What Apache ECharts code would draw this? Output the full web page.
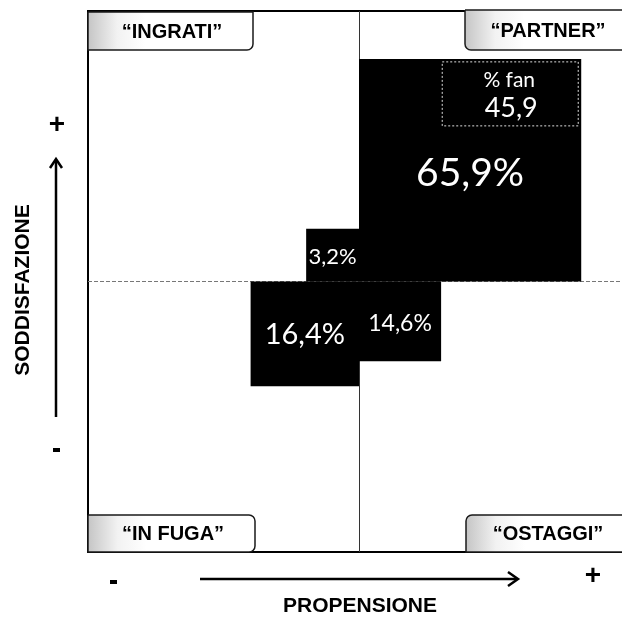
<!DOCTYPE html>
<html>
<head>
<meta charset="utf-8">
<script src="https://cdn.jsdelivr.net/npm/echarts@6/dist/echarts.min.js"></script>
<style>
html,body{margin:0;padding:0;background:#fff;}
#chart{width:622px;height:617px;}
</style>
</head>
<body>
<div id="chart"></div>
<script>
// ---- data ----
const quadrants = ['PARTNER', 'INGRATI', 'IN FUGA', 'OSTAGGI'];
const shares = [65.9, 3.2, 16.4, 14.6];
// extents of each block on the propensione (x) / soddisfazione (y) scales, -100..100
const xFrom = [0, -19.5, -40, 0];
const xTo = [82, 0, 0, 30.3];
const yFrom = [0, 0, -38.7, -29.5];
const yTo = [82.3, 19.5, 0, 0];
const fanLabel = '% fan';
const fanShare = [45.9];
const quadrantTitles = ['\u201CINGRATI\u201D', '\u201CPARTNER\u201D', '\u201CIN FUGA\u201D', '\u201COSTAGGI\u201D'];
const xTitle = 'PROPENSIONE';
const yTitle = 'SODDISFAZIONE';

// ---- styles ----
const labelSizes = [39, 22, 29, 23];
const labelDy = [3, 2, 1, 2];
const FONT = 'Lato, "DejaVu Sans", sans-serif';
const BOLD = '"Liberation Sans", Arial, sans-serif';

const fmt = v => v.toFixed(1).replace('.', ',');
const rows = shares.map((s, i) => [xFrom[i], xTo[i], yFrom[i], yTo[i], s, i]);

const chart = echarts.init(document.getElementById('chart'), null, {renderer: 'canvas'});

function tab(x, y, w, h, r, text, dx) {
  return {
    type: 'group',
    children: [
      {
        type: 'rect',
        shape: {x: x, y: y, width: w, height: h, r: r},
        style: {
          fill: new echarts.graphic.LinearGradient(0, 0, 1, 0, [
            {offset: 0, color: '#c4c4c4'},
            {offset: 0.18, color: '#f2f2f2'},
            {offset: 0.35, color: '#ffffff'},
            {offset: 1, color: '#ffffff'}
          ]),
          stroke: '#1a1a1a',
          lineWidth: 1.5
        },
        z: 10
      },
      {
        type: 'text',
        x: x + dx,
        y: y + h / 2 + 1,
        style: {
          text: text,
          font: 'bold 20px ' + BOLD,
          fill: '#000',
          align: 'center',
          verticalAlign: 'middle'
        },
        z: 11
      }
    ]
  };
}

const option = {
  animation: false,
  backgroundColor: '#fff',
  grid: {
    left: 88, top: 11, width: 542, height: 541,
    show: true, borderColor: '#000', borderWidth: 2, backgroundColor: '#fff',
    containLabel: false,
    outerBoundsMode: 'none'
  },
  xAxis: {
    type: 'value', min: -100, max: 100,
    axisLine: {show: false}, axisTick: {show: false},
    axisLabel: {show: false}, splitLine: {show: false}
  },
  yAxis: {
    type: 'value', min: -100, max: 100,
    axisLine: {show: false}, axisTick: {show: false},
    axisLabel: {show: false}, splitLine: {show: false}
  },
  series: [
    {
      type: 'custom',
      data: rows,
      z: 2,
      renderItem: function (params, api) {
        const i = api.value(5);
        const tl = api.coord([api.value(0), api.value(3)]);
        const br = api.coord([api.value(1), api.value(2)]);
        const w = br[0] - tl[0], h = br[1] - tl[1];
        const children = [
          {
            type: 'rect',
            shape: {x: tl[0], y: tl[1], width: w, height: h},
            style: {fill: '#000'}
          },
          {
            type: 'text',
            x: tl[0] + w / 2,
            y: tl[1] + h / 2 + labelDy[i],
            style: {
              text: fmt(api.value(4)) + '%',
              font: labelSizes[i] + 'px ' + FONT,
              fill: '#fff',
              align: 'center',
              verticalAlign: 'middle'
            }
          }
        ];
        if (i === 0) {
          children.push({
            type: 'rect',
            shape: {x: br[0] - 139, y: tl[1] + 3, width: 136, height: 64},
            style: {fill: 'none', stroke: '#ddd', lineWidth: 1, lineDash: [2, 2]}
          });
          children.push({
            type: 'text',
            x: br[0] - 72, y: tl[1] + 21,
            style: {text: fanLabel, font: '21px ' + FONT, fill: '#fff', align: 'center', verticalAlign: 'middle'}
          });
          children.push({
            type: 'text',
            x: br[0] - 70, y: tl[1] + 49,
            style: {text: fmt(fanShare[0]), font: '27px ' + FONT, fill: '#fff', align: 'center', verticalAlign: 'middle'}
          });
        }
        return {type: 'group', children: children};
      },
      markLine: {
        silent: true,
        symbol: 'none',
        label: {show: false},
        z: 1,
        data: [
          {xAxis: 0, lineStyle: {color: '#333', width: 1, type: 'solid'}},
          {yAxis: 0, lineStyle: {color: '#777', width: 1, type: [4, 2]}}
        ]
      }
    }
  ],
  graphic: [
    tab(88, 12, 165, 38, [0, 0, 6, 0], quadrantTitles[0], 84),
    tab(465, 10, 170, 40, [0, 0, 0, 6], quadrantTitles[1], 83),
    tab(88, 515, 167, 37, [0, 6, 6, 0], quadrantTitles[2], 85),
    tab(466, 515, 170, 37, [6, 0, 0, 0], quadrantTitles[3], 82),
    // y axis title and arrow
    {
      type: 'text', x: 23, y: 290, rotation: Math.PI / 2,
      style: {text: yTitle, font: 'bold 21px ' + BOLD, fill: '#000', align: 'center', verticalAlign: 'middle'}
    },
    {type: 'line', shape: {x1: 56, y1: 417, x2: 56, y2: 160}, style: {stroke: '#000', lineWidth: 2.5}},
    {type: 'polyline', shape: {points: [[50, 168], [56, 159], [62, 168]]}, style: {stroke: '#000', lineWidth: 2.5, fill: 'none'}},
    {type: 'text', x: 57, y: 125, style: {text: '+', font: 'bold 28px ' + BOLD, fill: '#000', align: 'center', verticalAlign: 'middle'}},
    {type: 'rect', shape: {x: 53, y: 448, width: 7, height: 4}, style: {fill: '#000'}},
    // x axis title and arrow
    {
      type: 'text', x: 360, y: 606,
      style: {text: xTitle, font: 'bold 21px ' + BOLD, fill: '#000', align: 'center', verticalAlign: 'middle'}
    },
    {type: 'line', shape: {x1: 200, y1: 579, x2: 516, y2: 579}, style: {stroke: '#000', lineWidth: 2.5}},
    {type: 'polyline', shape: {points: [[508, 572], [518, 579], [508, 586]]}, style: {stroke: '#000', lineWidth: 2.5, fill: 'none'}},
    {type: 'text', x: 593, y: 576, style: {text: '+', font: 'bold 28px ' + BOLD, fill: '#000', align: 'center', verticalAlign: 'middle'}},
    {type: 'rect', shape: {x: 110, y: 580, width: 7, height: 4}, style: {fill: '#000'}}
  ]
};
chart.setOption(option);
</script>
</body>
</html>
